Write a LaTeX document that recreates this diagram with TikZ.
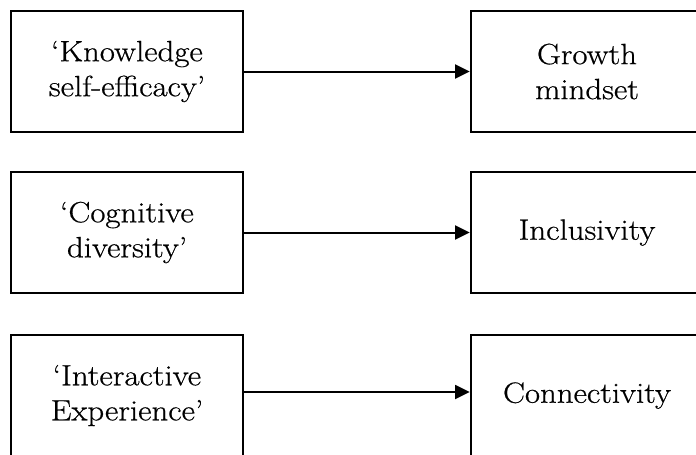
\documentclass[tikz,border=0pt]{standalone}
\usepackage{fontspec}
\setmainfont{Latin Modern Roman}[FakeStretch=1.12,FakeBold=0.6]
\usetikzlibrary{arrows.meta}
\begin{document}
\begin{tikzpicture}[x=0.75pt,y=-0.75pt,
  box/.style={draw,line width=1.9pt,minimum width=174pt,minimum height=90.75pt,align=center,inner sep=0pt,font=\fontsize{22}{26.25}\selectfont},
  conn/.style={line width=1.5pt,-{Triangle[length=11pt,width=10.5pt]}}]
\useasboundingbox (0,0) rectangle (696,454);
\node[box] (l1) at (127,71.5) {`Knowledge\\self-efficacy'};
\node[box] (r1) at (587,71.5) {Growth\\mindset};
\node[box] (l2) at (127,232.5) {`Cognitive\\diversity'};
\node[box] (r2) at (587,232.5) {Inclusivity};
\node[box] (l3) at (127,395.5) {`Interactive\\Experience'};
\node[box] (r3) at (587,395.5) {Connectivity};
\draw[conn] (l1.east) -- (r1.west);
\draw[conn] (l2.east) -- (r2.west);
\draw[conn] ([yshift=2.6pt]l3.east) -- ([yshift=2.6pt]r3.west);
\end{tikzpicture}
\end{document}
